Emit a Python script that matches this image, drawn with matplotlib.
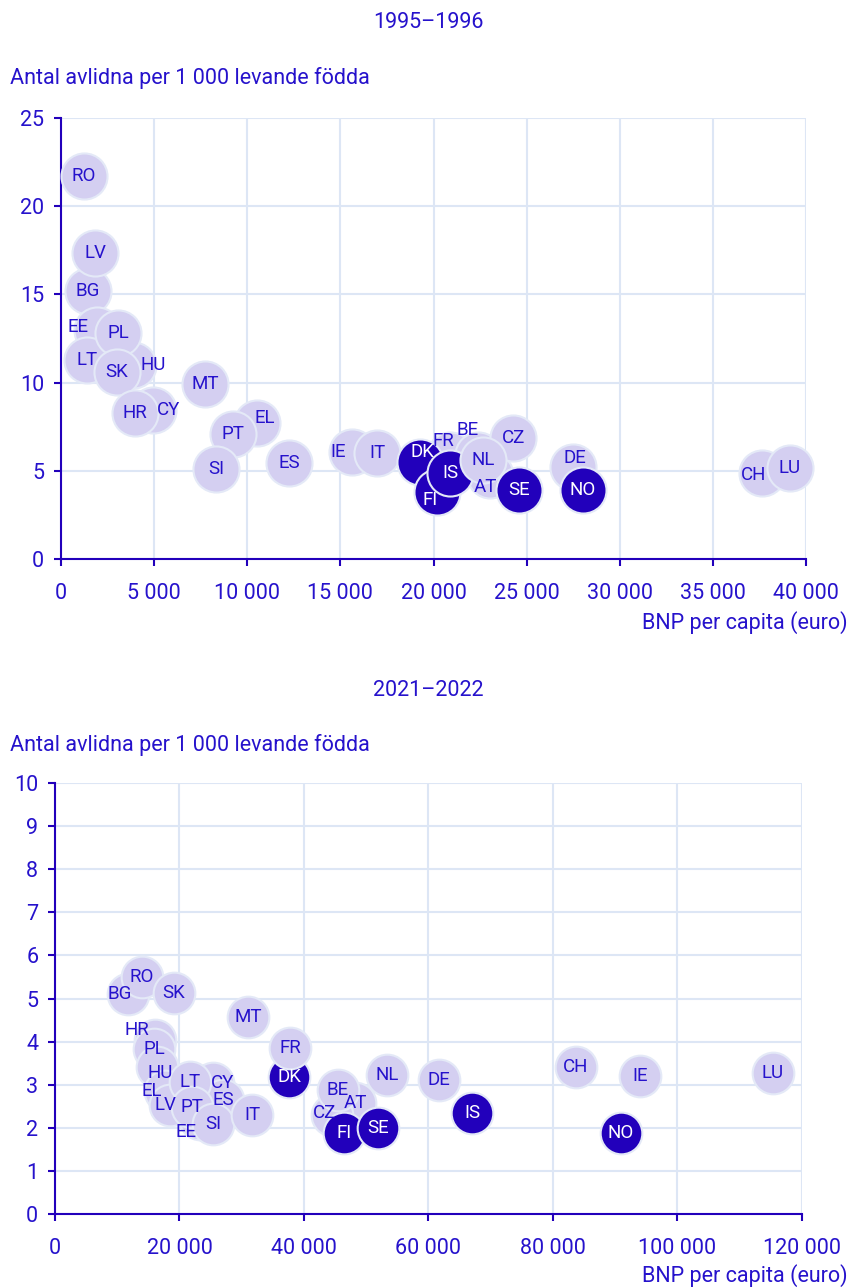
import matplotlib.pyplot as plt
from matplotlib.ticker import FuncFormatter, MultipleLocator

plt.rcParams['font.family'] = ['Roboto', 'DejaVu Sans']

BLUE = '#2612cc'
DARK = '#2200bb'
LIGHT = '#d4cff1'
EDGE = '#e4e9f7'
GRID = '#dde6f5'

nordic = ['DK', 'FI', 'IS', 'SE', 'NO']

# 1995-1996 (draw order matters for overlaps)
c1 = ['BG', 'LV', 'RO', 'EE', 'HU', 'LT', 'PL', 'SK', 'CY', 'HR', 'MT', 'EL', 'PT',
      'SI', 'ES', 'IE', 'IT', 'FR', 'BE', 'AT', 'CZ', 'DK', 'FI', 'IS', 'NL', 'SE',
      'DE', 'NO', 'CH', 'LU']
gdp1 = [1450, 1825, 1235, 1930, 3870, 1400, 3060, 3000, 4940, 3970, 7730, 10520, 9230,
        8320, 12240, 15620, 16970, 20900, 22400, 23030, 24270, 19280, 20190, 20890, 22660, 24600,
        27490, 28030, 37640, 39140]
mort1 = [15.2, 17.35, 21.7, 13.0, 11.0, 11.3, 12.8, 10.6, 8.45, 8.3, 9.9, 7.7, 7.1,
         5.1, 5.45, 6.07, 6.0, 5.9, 5.9, 4.75, 6.85, 5.5, 3.8, 4.9, 5.6, 3.9,
         5.2, 3.9, 4.9, 5.15]

# 2021-2022
c2 = ['BG', 'RO', 'SK', 'HR', 'PL', 'HU', 'EL', 'EE', 'CY', 'ES', 'LV', 'LT', 'PT',
      'SI', 'IT', 'MT', 'DK', 'FR', 'AT', 'CZ', 'BE', 'FI', 'SE', 'NL', 'DE', 'IS',
      'CH', 'IE', 'NO', 'LU']
gdp2 = [11730, 13970, 19120, 16060, 15900, 16400, 17700, 23300, 25380, 27000, 18470, 21690, 22010,
        25380, 31650, 31000, 37590, 37750, 48190, 44500, 45460, 46430, 51890, 53330, 61690, 66990,
        83690, 93980, 90920, 115340]
mort2 = [5.1, 5.5, 5.13, 4.04, 3.83, 3.4, 2.85, 2.2, 3.04, 2.65, 2.53, 3.06, 2.48,
         2.1, 2.3, 4.57, 3.18, 3.85, 2.57, 2.3, 2.88, 1.88, 2.0, 3.23, 3.1, 2.34,
         3.41, 3.2, 1.88, 3.27]

# label nudges in pixels (dx, dy up)
nudge1 = {'EE': (-19, 3), 'HU': (20, 0), 'CY': (16, 0), 'EL': (8, 5), 'IE': (-14, 0),
          'DK': (2, 10), 'FI': (-7, -8), 'FR': (-7, 14), 'BE': (-11, 25), 'AT': (-5, -12),
          'CH': (-9, -2), 'DE': (2, 9)}
nudge2 = {'BG': (-8, 0), 'HR': (-18, 10), 'HU': (3, -6), 'EL': (-13, 0), 'LV': (-4, 0),
          'CY': (10, 0), 'EE': (-14, -13), 'CZ': (-7, 2)}

H = 1288.0


def thousands(v, pos):
    return f'{int(v):,}'.replace(',', ' ')


def panel(rect, title, codes, gdp, mort, nudge, xmax, xstep, ymax, ystep, size,
          title_y, ylab_y, xlab_y):
    ax = fig.add_axes(rect)
    for code, x, y in zip(codes, gdp, mort):
        dark = code in nordic
        ax.scatter(x, y, s=size, color=DARK if dark else LIGHT, edgecolor=EDGE,
                   linewidth=1.5, zorder=3, clip_on=False)
    for code, x, y in zip(codes, gdp, mort):
        dx, dy = nudge.get(code, (0, 0))
        dark = code in nordic
        ax.annotate(code, (x, y), xytext=(dx * 0.72, dy * 0.72), textcoords='offset points',
                    ha='center', va='center', fontsize=13.5,
                    color='white' if dark else BLUE, zorder=5, annotation_clip=False)
    ax.set_xlim(0, xmax)
    ax.set_ylim(0, ymax)
    ax.xaxis.set_major_locator(MultipleLocator(xstep))
    ax.yaxis.set_major_locator(MultipleLocator(ystep))
    ax.xaxis.set_major_formatter(FuncFormatter(thousands))
    ax.grid(True, color=GRID, linewidth=1.5, zorder=0)
    ax.set_axisbelow(True)
    for s in ['top', 'right']:
        ax.spines[s].set_visible(False)
    for s in ['left', 'bottom']:
        ax.spines[s].set_color(DARK)
        ax.spines[s].set_linewidth(1.5)
        ax.spines[s].set_zorder(2)
    ax.tick_params(colors=DARK, labelcolor=BLUE, labelsize=15.5, length=5, width=1.5)
    ax.tick_params(axis='x', pad=12)
    ax.tick_params(axis='y', pad=7)
    fig.text(848 / 850, 1 - xlab_y / H, 'BNP per capita (euro)', color=BLUE, fontsize=15.5,
             ha='right', va='center')
    fig.text(10 / 850, 1 - ylab_y / H, 'Antal avlidna per 1 000 levande födda',
             color=BLUE, fontsize=15.5, ha='left', va='center')
    fig.text(428 / 850, 1 - title_y / H, title, color=BLUE, fontsize=15.5,
             ha='center', va='center')
    return ax


fig = plt.figure(figsize=(8.5, 12.88), dpi=100)
panel([0.0718, 0.5660, 0.8765, 0.3424], '1995–1996', c1, gdp1, mort1, nudge1,
      40000, 5000, 25, 5, 1100, 22, 78, 623)
panel([0.0647, 0.05745, 0.8788, 0.3346], '2021–2022', c2, gdp2, mort2, nudge2,
      120000, 20000, 10, 1, 900, 690, 745, 1276)

fig.savefig('out.png', dpi=100)
